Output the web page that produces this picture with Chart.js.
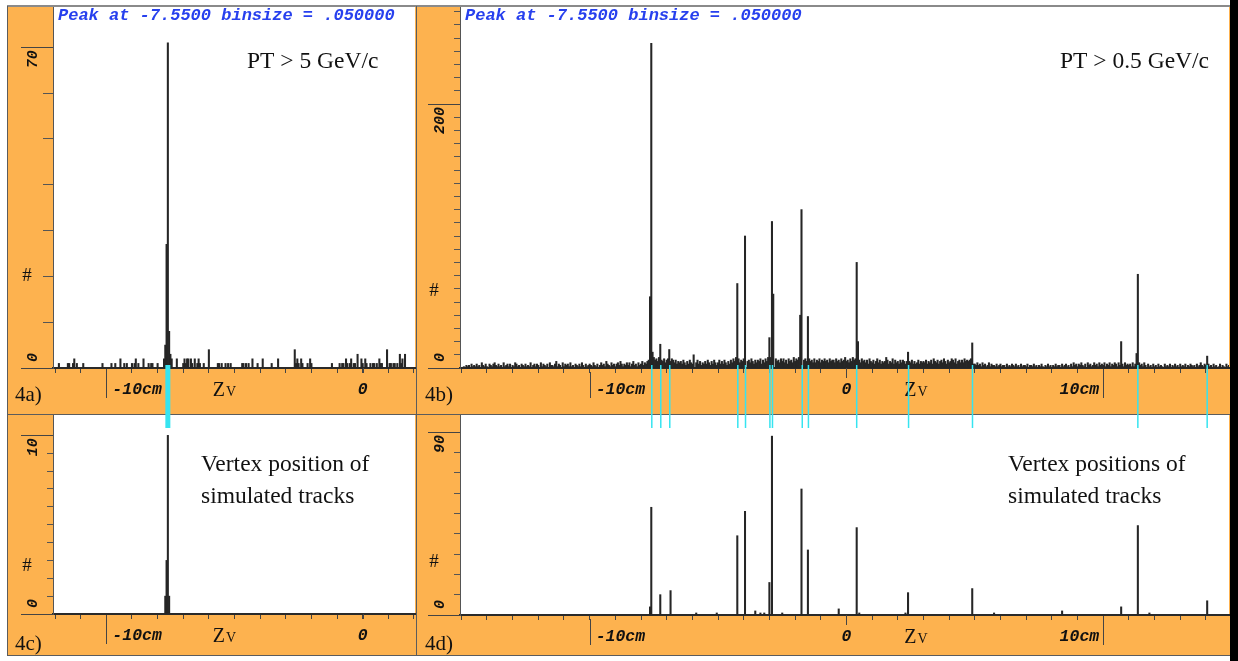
<!DOCTYPE html>
<html>
<head>
<meta charset="utf-8">
<script src="https://cdn.jsdelivr.net/npm/chart.js@4.4.1/dist/chart.umd.min.js"></script>
<style>
  html, body { margin: 0; padding: 0; background: #fff; }
  #fig { position: relative; width: 1238px; height: 661px; overflow: hidden; background: #fff; }
  .band { position: absolute; background: #fdb24f; }
  .ln { position: absolute; background: #5c5c5c; }
  canvas { position: absolute; }
</style>
</head>
<body>
<div id="fig">
  <div class="band" style="left:7px;top:6px;width:1223px;height:649px"></div>
  <div class="ln" style="left:7px;top:5px;width:1223px;height:2px;background:#8a8a8a"></div>
  <div class="ln" style="left:7px;top:6px;width:1px;height:649px"></div>
  <div class="ln" style="left:416px;top:6px;width:1px;height:649px"></div>
  <div class="ln" style="left:7px;top:414px;width:1223px;height:1px"></div>
  <div class="ln" style="left:7px;top:655px;width:1223px;height:1px"></div>
  <div style="position:absolute;left:1230px;top:0;width:8px;height:661px;background:#000"></div>
  <canvas id="cC" width="409" height="241" style="left:7px;top:414px"></canvas>
  <canvas id="cD" width="814" height="241" style="left:416px;top:414px"></canvas>
  <canvas id="cA" width="409" height="424" style="left:7px;top:6px"></canvas>
  <canvas id="cB" width="814" height="424" style="left:416px;top:6px"></canvas>
</div>
<script>
// === dữ liệu: histogram Zv, bin 0.05 cm ===
const binSize = 0.05;

// 4a) PT > 5 GeV/c -- counts per bin, first bin at -12.05 cm
const startA = -12.05;
const countsA = [
  '0000100000', '0110012010', '0001000000', '0000000010', '0000010010',
  '0020010100', '0101201000', '2000101100', '0100002500', '8320002000',
  '0121220210', '2012100100', '0400000011', '0100101010', '0000000110',
  '1010020001', '0002000000', '1000020000', '0000000041', '2102100010',
  '2100000000', '0000000100', '0001011021', '0120110300', '2102100101',
  '1010211000', '4011011010', '3120300000', '00'
].join('');
const peaksA = [[-7.65, 27], [-7.6, 71]];

// 4b) PT > 0.5 GeV/c -- counts per bin, first bin at -15.0 cm
const startB = -15.0;
const countsB = [
  '00102120312131204213103213421312041231302143120321',
  '31214023132041321304221351320413231412032131420312',
  '32142130242315321423134253132424135231423524356000',
  '86758065746705764635453642536435046352435364253642',
  '46353642536475807465780564753646573647586809075647',
  '57463756485768700675075647465746575647566475647568',
  '56475867006475646375463574635450635473645364653515',
  '46353463545463546375463564753645064735646475656703',
  '32423142312413221312312203121321312031221302213120',
  '21310213120213122031231203142313242130423124231423',
  '24132413243142031423231413004231420312031203121031',
  '21302131203121302132120312421320312031201302103120'
].join('');
const peaksB = [
  [-7.65, 54], [-7.6, 246], [-7.55, 12], [-7.25, 18], [-6.9, 14], [-5.95, 10],
  [-4.25, 64], [-3.95, 100], [-3.0, 23], [-2.9, 111], [-2.85, 56],
  [-1.8, 40], [-1.75, 120], [-1.5, 39], [0.4, 80], [0.45, 20], [1.55, 8],
  [2.4, 12], [4.1, 7], [4.9, 19], [10.7, 20], [11.3, 11], [11.35, 71], [14.05, 9]
];

// 4c) / 4d) vertex position of simulated tracks [z, count]
const simC = [[-7.7, 1], [-7.65, 3], [-7.6, 10], [-7.55, 1]];
const simD = [
  [-7.65, 4], [-7.6, 53], [-7.25, 10], [-6.85, 12], [-5.85, 1], [-5.05, 1],
  [-4.25, 39], [-3.95, 51], [-3.55, 2], [-3.35, 1], [-3.2, 1], [-3.0, 16],
  [-2.9, 88], [-2.5, 1], [-1.75, 62], [-1.5, 32], [-0.3, 3], [0.4, 43],
  [0.5, 1], [2.3, 1], [2.4, 11], [4.9, 13], [5.75, 1], [8.4, 2], [10.7, 4],
  [11.35, 44], [11.8, 1], [14.05, 7]
];

// true vertex positions (cyan marks under the axis)
const vertexA = [-7.6];
const vertexB = [-7.58, -7.23, -6.88, -4.23, -3.93, -2.98, -2.88, -1.72, -1.48, 0.40, 2.42, 4.91, 11.35, 14.05];

// nhãn trục
const yLabelsA = [0, 70];
const yLabelsB = [0, 200];
const yLabelsC = [0, 10];
const yLabelsD = [0, 90];
const xLabelsLeft = [[-10, '-10cm'], [0, '0']];
const xLabelsRight = [[-10, '-10cm'], [0, '0'], [10, '10cm']];
const titleText = 'Peak at -7.5500 binsize = .050000';

function steps(a, b, s) {
  const out = [];
  for (let v = a; v <= b + 1e-9; v += s) out.push(+v.toFixed(3));
  return out;
}

function histPoints(start, digits, peaks) {
  const counts = Array.from(digits, Number);
  peaks.forEach(([z, n]) => { counts[Math.round((z - start) / binSize)] = n; });
  return counts.map((n, i) => ({ x: +(start + i * binSize).toFixed(2), y: n })).filter(p => p.y > 0);
}

const monoFont = (px) => `italic bold ${px}px "Liberation Mono", "DejaVu Sans Mono", monospace`;
const serifFont = (px) => `${px}px "Liberation Serif", "DejaVu Serif", serif`;

// plugin vẽ nền, nhãn, vạch dài và vạch cyan
const decor = {
  id: 'decor',
  beforeDraw(chart) {
    const { ctx, chartArea: a } = chart;
    ctx.save();
    ctx.fillStyle = '#fff';
    ctx.fillRect(a.left, a.top, a.right - a.left, a.bottom - a.top);
    ctx.restore();
  },
  afterDraw(chart, args, o) {
    const { ctx, chartArea: a } = chart;
    const x = chart.scales.x, y = chart.scales.y;
    const ox = chart.canvas.offsetLeft, oy = chart.canvas.offsetTop;
    ctx.save();

    // long ticks on y at labelled values
    ctx.strokeStyle = '#444';
    ctx.lineWidth = 1;
    o.yLabels.forEach(v => {
      const py = Math.round(y.getPixelForValue(v)) + 0.5;
      ctx.beginPath(); ctx.moveTo(a.left - 32, py); ctx.lineTo(a.left, py); ctx.stroke();
    });

    // rotated y labels
    ctx.font = monoFont(15);
    ctx.fillStyle = '#111';
    ctx.textAlign = 'center';
    ctx.textBaseline = 'middle';
    o.yLabels.forEach(v => {
      const t = String(v);
      const w = ctx.measureText(t).width;
      const py = y.getPixelForValue(v);
      const cy = v === 0 ? py - 6 - w / 2 : py + 3 + w / 2;
      ctx.save();
      ctx.translate(a.left - 20, cy);
      ctx.rotate(-Math.PI / 2);
      ctx.fillText(t, 0, 0);
      ctx.restore();
    });

    // "#"
    ctx.font = serifFont(19);
    ctx.fillText('#', a.left - 26, y.getPixelForValue(o.hashV));

    // x labels
    ctx.font = monoFont(16.5);
    ctx.textBaseline = 'alphabetic';
    const base = a.bottom + 26;
    o.xLabels.forEach(([v, t]) => {
      const px = x.getPixelForValue(v);
      if (px < a.left || px > a.right) return;
      const lx = Math.round(px) + 0.5;
      ctx.beginPath();
      if (v === 0) {
        ctx.moveTo(lx, a.bottom); ctx.lineTo(lx, a.bottom + (o.zeroTick ? 10 : 5));
        ctx.stroke();
        ctx.textAlign = 'center';
        ctx.fillText(t, px, base);
      } else {
        ctx.moveTo(lx, a.bottom + 4); ctx.lineTo(lx, a.bottom + 30);
        ctx.stroke();
        ctx.textAlign = v < 0 ? 'left' : 'right';
        ctx.fillText(t, v < 0 ? px + 6 : px - 4, base);
      }
    });

    // Zv
    const zx = x.getPixelForValue(o.zv);
    ctx.textAlign = 'left';
    ctx.font = serifFont(20);
    ctx.fillText('Z', zx, a.bottom + 28);
    const zw = ctx.measureText('Z').width;
    ctx.font = serifFont(14);
    ctx.fillText('V', zx + zw + 1, a.bottom + 28);

    // panel tag
    ctx.font = serifFont(21);
    ctx.fillText(o.tag, o.tagX - ox, o.tagY - oy);

    // title and notes
    if (o.title) {
      ctx.font = monoFont(17);
      ctx.fillStyle = '#2740ee';
      ctx.fillText(o.title, a.left + 5, 20 - oy);
    }
    ctx.fillStyle = '#111';
    ctx.font = serifFont(23.5);
    o.notes.forEach(n => ctx.fillText(n.t, n.x - ox, n.y - oy));

    // cyan vertex marks
    ctx.strokeStyle = '#36e4f0';
    ctx.lineWidth = o.vWidth || 1.5;
    (o.vertices || []).forEach(v => {
      const px = x.getPixelForValue(v);
      ctx.beginPath(); ctx.moveTo(px, a.bottom - 3); ctx.lineTo(px, a.bottom + 60); ctx.stroke();
    });
    ctx.restore();
  }
};

function panel(id, p) {
  return new Chart(document.getElementById(id), {
    type: 'bar',
    data: {
      datasets: [{
        data: p.points,
        backgroundColor: '#262626',
        borderWidth: 0,
        barThickness: 1.4,
        categoryPercentage: 1,
        barPercentage: 1
      }]
    },
    options: {
      responsive: false,
      animation: false,
      devicePixelRatio: 1,
      layout: { padding: { top: 1, right: 1, left: 0, bottom: 0 } },
      plugins: { legend: { display: false }, tooltip: { enabled: false }, decor: p.decor },
      scales: {
        x: {
          type: 'linear', min: p.xMin, max: p.xMax, offset: false,
          afterBuildTicks: s => { s.ticks = p.xTicks.map(v => ({ value: v })); },
          afterFit: s => { s.height = p.xHeight; },
          ticks: { display: false },
          grid: { offset: false, drawOnChartArea: false, drawTicks: true, tickLength: 5, color: '#444', tickColor: '#444' },
          border: { display: true, color: '#2a2a2a', width: 2 }
        },
        y: {
          min: 0, max: p.yMax,
          afterBuildTicks: s => { s.ticks = p.yTicks.map(v => ({ value: v })); },
          afterFit: s => { s.width = p.yWidth; },
          ticks: { display: false },
          grid: { drawOnChartArea: false, drawTicks: true, tickLength: p.yTick, color: '#555', tickColor: '#555' },
          border: { display: true, color: '#555', width: 1 }
        }
      }
    },
    plugins: [decor]
  });
}

panel('cC', {
  points: simC.map(([x, y]) => ({ x, y })),
  xMin: -12.08, xMax: 2.04, xTicks: steps(-12, 2, 1), xHeight: 41,
  yMax: 11.14, yTicks: steps(0, 10, 1), yWidth: 46, yTick: 6,
  decor: {
    notes: [{ t: 'Vertex position of', x: 201, y: 471 }, { t: 'simulated tracks', x: 201, y: 503 }],
    tag: '4c)', tagX: 15, tagY: 650, yLabels: yLabelsC, hashV: 2.7, zv: -5.85,
    xLabels: xLabelsLeft, zeroTick: false
  }
});

panel('cD', {
  points: simD.map(([x, y]) => ({ x, y })),
  xMin: -15.05, xMax: 14.9, xTicks: steps(-15, 14, 1), xHeight: 40,
  yMax: 98.4, yTicks: steps(0, 90, 10), yWidth: 44, yTick: 6,
  decor: {
    notes: [{ t: 'Vertex positions of', x: 1008, y: 471 }, { t: 'simulated tracks', x: 1008, y: 503 }],
    tag: '4d)', tagX: 425, tagY: 650, yLabels: yLabelsD, hashV: 26, zv: 2.25,
    xLabels: xLabelsRight, zeroTick: true
  }
});

panel('cA', {
  points: histPoints(startA, countsA, peaksA),
  xMin: -12.08, xMax: 2.04, xTicks: steps(-12, 2, 1), xHeight: 62,
  yMax: 78.8, yTicks: steps(0, 70, 10), yWidth: 46, yTick: 10,
  decor: {
    title: titleText,
    notes: [{ t: 'PT > 5 GeV/c', x: 247, y: 68 }],
    tag: '4a)', tagX: 15, tagY: 401, yLabels: yLabelsA, hashV: 20, zv: -5.85,
    xLabels: xLabelsLeft, zeroTick: false, vertices: vertexA, vWidth: 5
  }
});

panel('cB', {
  points: histPoints(startB, countsB, peaksB),
  xMin: -15.05, xMax: 14.9, xTicks: steps(-15, 14, 1), xHeight: 62,
  yMax: 273.5, yTicks: steps(0, 270, 10), yWidth: 44, yTick: 6,
  decor: {
    title: titleText,
    notes: [{ t: 'PT > 0.5 GeV/c', x: 1060, y: 68 }],
    tag: '4b)', tagX: 425, tagY: 401, yLabels: yLabelsB, hashV: 58, zv: 2.25,
    xLabels: xLabelsRight, zeroTick: true, vertices: vertexB, vWidth: 1.5
  }
});
</script>
</body>
</html>
